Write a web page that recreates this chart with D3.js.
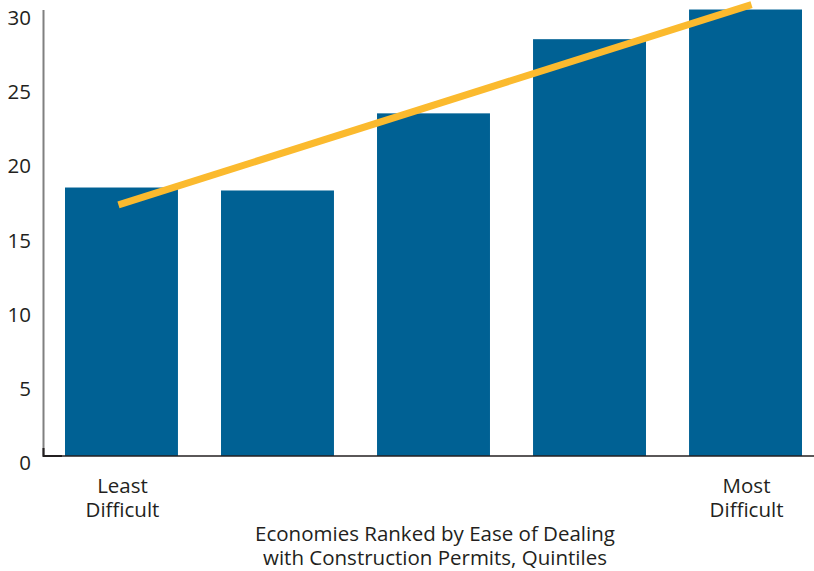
<!DOCTYPE html>
<html>
<head>
<meta charset="utf-8">
<script src="https://cdn.jsdelivr.net/npm/d3@7"></script>
<style>
  body { margin: 0; background: #fff; }
  text { font-family: "Open Sans", "Noto Sans", sans-serif; fill: #231f20; }
</style>
</head>
<body>
<div id="chart"></div>
<script>
const quintiles = ["Q1", "Q2", "Q3", "Q4", "Q5"];
const values = [18.1, 17.9, 23.1, 28.1, 30.1];
const trend = [17.0, 30.3]; // trend line at first and last quintile
const yTicks = [0, 5, 10, 15, 20, 25, 30];
const endLabels = [["Least", "Difficult"], ["Most", "Difficult"]];
const axisTitle = ["Economies Ranked by Ease of Dealing", "with Construction Permits, Quintiles"];

const width = 814, height = 571;
const fontSize = 20.5;
const container = d3.select("#chart");

const svg = d3.create("svg")
    .attr("width", width)
    .attr("height", height);

const x = d3.scaleBand()
    .domain(quintiles)
    .range([65, 802])
    .paddingInner(0.276)
    .paddingOuter(0);

const y = d3.scaleLinear()
    .domain([0, 30])
    .range([456, 11]);

// bars
svg.selectAll(".bar")
    .data(values)
    .join("rect")
    .attr("class", "bar")
    .attr("x", (d, i) => x(quintiles[i]))
    .attr("y", d => y(d))
    .attr("width", x.bandwidth())
    .attr("height", d => y(0) - y(d))
    .attr("fill", "#006194");

// y axis line
svg.append("line")
    .attr("x1", 43.5).attr("x2", 43.5)
    .attr("y1", 10).attr("y2", y(0))
    .attr("stroke", "#808080")
    .attr("stroke-width", 2);

// baseline
svg.append("line")
    .attr("x1", 43).attr("x2", width)
    .attr("y1", y(0)).attr("y2", y(0))
    .attr("stroke", "#231f20")
    .attr("stroke-width", 1.5);

// little corner mark
svg.append("path")
    .attr("d", `M43.5,${y(0) - 8}V${y(0)}H62`)
    .attr("fill", "none")
    .attr("stroke", "#231f20")
    .attr("stroke-width", 2);

// tick labels
svg.selectAll(".ytick")
    .data(yTicks)
    .join("text")
    .attr("class", "ytick")
    .attr("x", 31)
    .attr("y", d => y(d) + 14)
    .attr("text-anchor", "end")
    .attr("font-size", fontSize)
    .text(d => d);

// trend line
const ends = [quintiles[0], quintiles[quintiles.length - 1]];
svg.append("line")
    .attr("x1", x(ends[0]) + x.bandwidth() / 2 - 3)
    .attr("y1", y(trend[0]) + 1)
    .attr("x2", x(ends[1]) + x.bandwidth() / 2 + 6)
    .attr("y2", y(trend[1]) - 2)
    .attr("stroke", "#fbba2e")
    .attr("stroke-width", 7);

// end labels
endLabels.forEach((lines, i) => {
    const cx = x(ends[i]) + x.bandwidth() / 2 + 1;
    const t = svg.append("text")
        .attr("text-anchor", "middle")
        .attr("font-size", fontSize)
        .attr("y", 493);
    lines.forEach((l, j) => {
        t.append("tspan")
            .attr("x", cx)
            .attr("dy", j ? 24 : 0)
            .text(l);
    });
});

// axis title
const title = svg.append("text")
    .attr("text-anchor", "middle")
    .attr("font-size", fontSize)
    .attr("y", 541);
axisTitle.forEach((l, j) => {
    title.append("tspan")
        .attr("x", 435)
        .attr("dy", j ? 24 : 0)
        .text(l);
});

container.append(() => svg.node());
</script>
</body>
</html>
